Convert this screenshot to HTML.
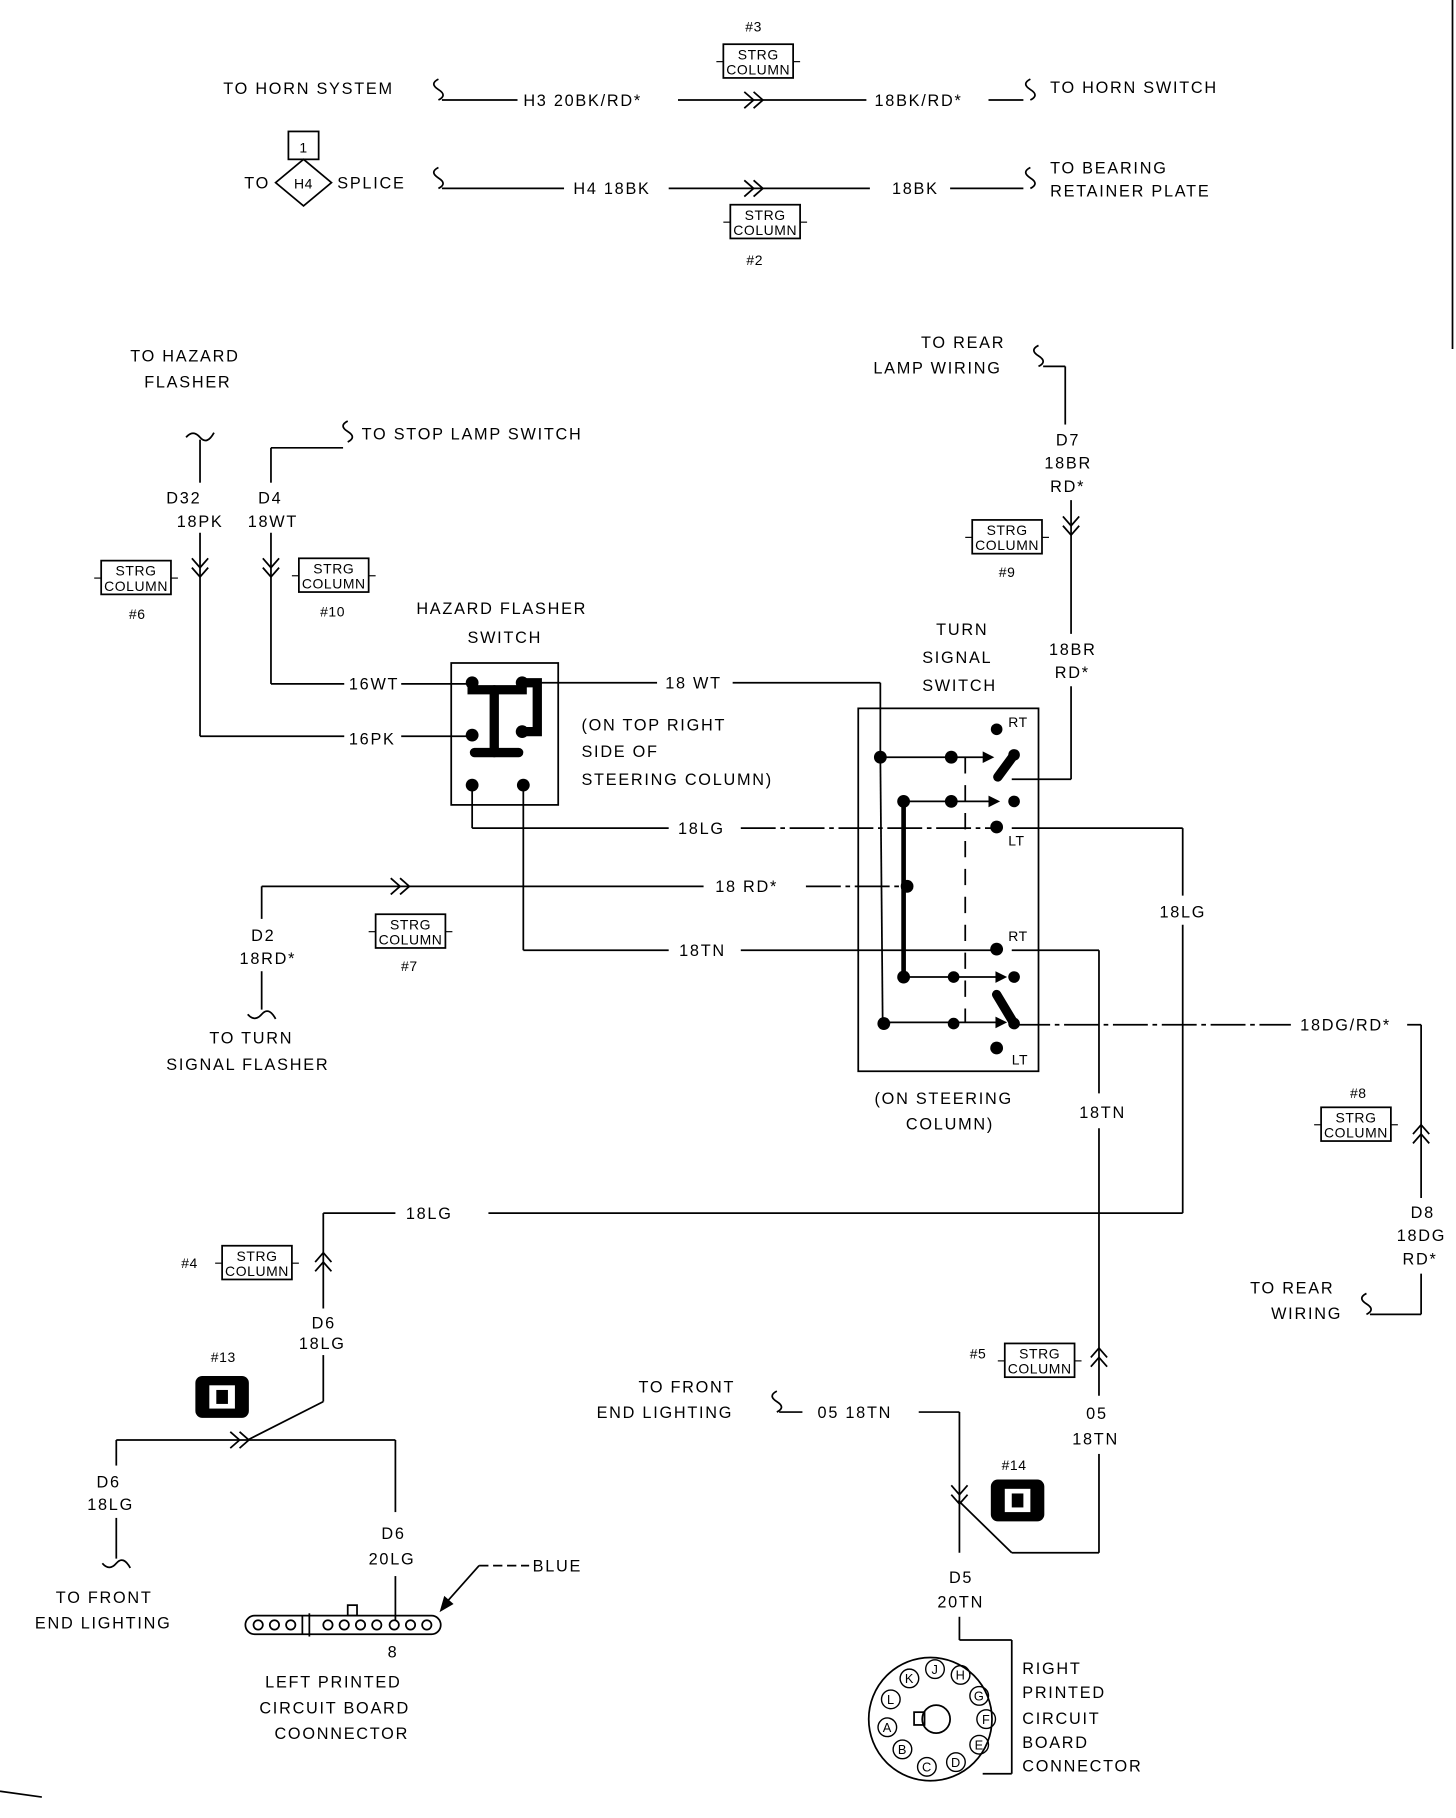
<!DOCTYPE html>
<html><head><meta charset="utf-8"><style>
html,body{margin:0;padding:0;background:#fff;}
svg{display:block;}
text{font-family:"Liberation Sans",sans-serif;font-size:14px;letter-spacing:1.5px;fill:#000;}
.s{font-size:12px;letter-spacing:0.5px;}
</style></head><body>
<svg width="1456" height="1818" viewBox="0 0 1252 1563" preserveAspectRatio="none" xmlns="http://www.w3.org/2000/svg">
<defs>
<g id="strg"><rect x="0" y="0" width="60" height="29" fill="none" stroke="#000" stroke-width="1.5"/><line x1="-6" y1="15" x2="0" y2="15" stroke="#000"/><line x1="60" y1="15" x2="66" y2="15" stroke="#000"/><text x="30" y="13" class="s" text-anchor="middle">STRG</text><text x="30" y="26" class="s" text-anchor="middle">COLUMN</text></g>
<g id="chr" fill="none" stroke="#000" stroke-width="1.5"><polyline points="-8,-7 0,0 -8,7"/><polyline points="0,-7 8,0 0,7"/></g>
<g id="chd" fill="none" stroke="#000" stroke-width="1.5"><polyline points="-7,-8 0,0 7,-8"/><polyline points="-7,0 0,8 7,0"/></g>
<g id="chu" fill="none" stroke="#000" stroke-width="1.5"><polyline points="-7,8 0,0 7,8"/><polyline points="-7,0 0,-8 7,0"/></g>
<path id="sqh" d="M0,-9 q-8,4 0,9 q8,5 0,9" fill="none" stroke="#000" stroke-width="1.5"/>
</defs>
<g fill="none" stroke="#000" stroke-width="1.5">
<line x1="380" y1="86" x2="445" y2="86"/><line x1="583" y1="86" x2="745" y2="86"/><line x1="850" y1="86" x2="880" y2="86"/>
<line x1="380" y1="162" x2="485" y2="162"/><line x1="575" y1="162" x2="748" y2="162"/><line x1="817" y1="162" x2="880" y2="162"/>
<rect x="248" y="113" width="26" height="24"/>
<polygon points="261,137 285,157 261,177 237,157"/>
<line x1="172" y1="378" x2="172" y2="415"/><line x1="172" y1="458" x2="172" y2="633"/><line x1="172" y1="633" x2="296" y2="633"/><line x1="345" y1="633" x2="404" y2="633"/>
<line x1="233" y1="385" x2="295" y2="385"/><line x1="233" y1="385" x2="233" y2="415"/><line x1="233" y1="458" x2="233" y2="588"/><line x1="233" y1="588" x2="296" y2="588"/><line x1="345" y1="588" x2="404" y2="588"/>
<rect x="388" y="570" width="92" height="122"/>
<line x1="462" y1="587" x2="565" y2="587"/><line x1="630" y1="587" x2="757" y2="587"/><line x1="757" y1="587" x2="757" y2="651"/>
<line x1="406" y1="675" x2="406" y2="712"/><line x1="406" y1="712" x2="575" y2="712"/><line x1="637" y1="712" x2="857" y2="712" stroke-dasharray="30,4,4,4"/><line x1="870" y1="712" x2="1017" y2="712"/><line x1="1017" y1="712" x2="1017" y2="770"/><line x1="1017" y1="795" x2="1017" y2="1043"/><line x1="1017" y1="1043" x2="420" y2="1043"/><line x1="340" y1="1043" x2="278" y2="1043"/><line x1="278" y1="1043" x2="278" y2="1125"/>
<line x1="278" y1="1165" x2="278" y2="1205"/><line x1="278" y1="1205" x2="213" y2="1238"/><line x1="100" y1="1238" x2="340" y2="1238"/><line x1="100" y1="1238" x2="100" y2="1260"/><line x1="100" y1="1305" x2="100" y2="1340"/><line x1="340" y1="1238" x2="340" y2="1300"/><line x1="340" y1="1355" x2="340" y2="1393"/>
<line x1="225" y1="762" x2="605" y2="762"/><line x1="693" y1="762" x2="780" y2="762" stroke-dasharray="30,4,4,4"/><line x1="225" y1="762" x2="225" y2="790"/><line x1="225" y1="835" x2="225" y2="868"/>
<line x1="450" y1="675" x2="450" y2="817"/><line x1="450" y1="817" x2="575" y2="817"/><line x1="637" y1="817" x2="857" y2="817"/><line x1="870" y1="817" x2="945" y2="817"/><line x1="945" y1="817" x2="945" y2="940"/><line x1="945" y1="970" x2="945" y2="1200"/><line x1="945" y1="1250" x2="945" y2="1335"/><line x1="945" y1="1335" x2="870" y2="1335"/><line x1="870" y1="1335" x2="824" y2="1290"/>
<line x1="670" y1="1214" x2="690" y2="1214"/><line x1="790" y1="1214" x2="825" y2="1214"/><line x1="825" y1="1214" x2="825" y2="1335"/><line x1="825" y1="1390" x2="825" y2="1410"/><line x1="825" y1="1410" x2="870" y2="1410"/><line x1="870" y1="1410" x2="870" y2="1525"/><line x1="870" y1="1525" x2="845" y2="1525"/>
<line x1="897" y1="315" x2="916" y2="315"/><line x1="916" y1="315" x2="916" y2="365"/><line x1="921" y1="430" x2="921" y2="545"/><line x1="921" y1="590" x2="921" y2="670"/><line x1="921" y1="670" x2="870" y2="670"/>
<line x1="873" y1="881" x2="1110" y2="881" stroke-dasharray="30,4,4,4"/><line x1="1210" y1="881" x2="1222" y2="881"/><line x1="1222" y1="881" x2="1222" y2="1030"/><line x1="1222" y1="1095" x2="1222" y2="1130"/><line x1="1222" y1="1130" x2="1178" y2="1130"/>
<rect x="738" y="609" width="155" height="312"/>
<line x1="757" y1="651" x2="759" y2="879"/>
<line x1="756" y1="651" x2="850" y2="651"/>
<line x1="777" y1="689" x2="850" y2="689"/>
<line x1="777" y1="840" x2="858" y2="840"/>
<line x1="759" y1="879" x2="858" y2="879"/>
<line x1="830" y1="651" x2="830" y2="879" stroke-dasharray="14,10"/>
</g>
<g stroke="#000" stroke-width="4" fill="none"><line x1="777" y1="689" x2="777" y2="840"/></g>
<g stroke="#000" stroke-width="8" stroke-linecap="round" fill="none"><line x1="872" y1="649" x2="858" y2="668"/><line x1="857" y1="855" x2="872" y2="880"/>
<polyline points="406,588 406,593 449,593 449,588"/><line x1="425" y1="593" x2="425" y2="647"/><line x1="408" y1="647" x2="446" y2="647"/><polyline points="449,587 462,587 462,629 449,629"/></g>
<g fill="#000">
<polygon points="855,651 845,646 845,656"/><polygon points="860,689 850,684 850,694"/><polygon points="866,840 856,835 856,845"/><polygon points="866,879 856,874 856,884"/>
<circle cx="406" cy="587" r="5.5"/><circle cx="406" cy="632" r="5.5"/><circle cx="406" cy="675" r="5.5"/><circle cx="450" cy="675" r="5.5"/><circle cx="449" cy="587" r="5.5"/><circle cx="449" cy="629" r="5.5"/>
<circle cx="857" cy="627" r="5"/><circle cx="757" cy="651" r="5.5"/><circle cx="818" cy="651" r="5.5"/><circle cx="872" cy="649" r="5"/>
<circle cx="777" cy="689" r="5.5"/><circle cx="818" cy="689" r="5.5"/><circle cx="872" cy="689" r="5"/><circle cx="857" cy="711" r="5.5"/>
<circle cx="780" cy="762" r="5.5"/><circle cx="857" cy="816" r="5.5"/>
<circle cx="777" cy="840" r="5.5"/><circle cx="820" cy="840" r="5"/><circle cx="872" cy="840" r="5"/>
<circle cx="760" cy="880" r="5.5"/><circle cx="820" cy="880" r="5"/><circle cx="872" cy="880" r="5"/><circle cx="857" cy="901" r="5.5"/>
<rect x="168" y="1183" width="46" height="36" rx="6"/><rect x="852" y="1272" width="46" height="36" rx="6"/>
</g>
<rect x="180" y="1191" width="22" height="20" fill="#fff"/><rect x="186" y="1195" width="10" height="12" fill="#000"/>
<rect x="864" y="1280" width="22" height="20" fill="#fff"/><rect x="870" y="1284" width="10" height="12" fill="#000"/>
<use href="#sqh" x="377" y="77"/><use href="#sqh" x="886" y="77"/><use href="#sqh" x="377" y="153"/><use href="#sqh" x="886" y="153"/>
<use href="#sqh" x="299" y="371"/><use href="#sqh" x="893" y="306"/><use href="#sqh" x="668" y="1205"/><use href="#sqh" x="1175" y="1121"/>
<path d="M160,376 q6,-7 12,0 q6,7 12,-4" fill="none" stroke="#000" stroke-width="1.5"/>
<path d="M213,872 q6,7 12,0 q6,-7 12,4" fill="none" stroke="#000" stroke-width="1.5"/>
<path d="M88,1344 q6,7 12,0 q6,-7 12,4" fill="none" stroke="#000" stroke-width="1.5"/>
<use href="#chr" x="648" y="86"/><use href="#chr" x="648" y="162"/><use href="#chr" x="344" y="762"/><use href="#chr" x="206" y="1238"/>
<use href="#chd" x="172" y="488"/><use href="#chd" x="233" y="488"/><use href="#chd" x="921" y="452"/><use href="#chd" x="825" y="1285"/>
<use href="#chu" x="278" y="1085"/><use href="#chu" x="945" y="1167"/><use href="#chu" x="1222" y="975"/>
<use href="#strg" x="622" y="38"/><use href="#strg" x="628" y="176"/><use href="#strg" x="87" y="482"/><use href="#strg" x="257" y="480"/>
<use href="#strg" x="836" y="447"/><use href="#strg" x="323" y="786"/><use href="#strg" x="1136" y="952"/><use href="#strg" x="191" y="1071"/><use href="#strg" x="864" y="1155"/>
<g fill="none" stroke="#000" stroke-width="1.5">
<rect x="211" y="1389" width="168" height="16" rx="8"/><line x1="260" y1="1389" x2="260" y2="1405"/><line x1="266" y1="1387" x2="266" y2="1407"/>
<rect x="299" y="1380" width="8" height="9"/>
<circle cx="222" cy="1397" r="4"/><circle cx="236" cy="1397" r="4"/><circle cx="250" cy="1397" r="4"/>
<circle cx="282" cy="1397" r="4"/><circle cx="296" cy="1397" r="4"/><circle cx="310" cy="1397" r="4"/><circle cx="324" cy="1397" r="4"/><circle cx="339" cy="1397" r="4"/><circle cx="353" cy="1397" r="4"/><circle cx="367" cy="1397" r="4"/>
<line x1="412" y1="1346" x2="380" y2="1382"/><line x1="412" y1="1346" x2="455" y2="1346" stroke-dasharray="8,4"/>
<circle cx="800" cy="1478" r="53"/><circle cx="805" cy="1478" r="12"/><rect x="786" y="1472" width="9" height="11"/>
<g stroke-width="1.2"><circle cx="804" cy="1435" r="8"/><circle cx="826" cy="1440" r="8"/><circle cx="842" cy="1458" r="8"/><circle cx="848" cy="1478" r="8"/><circle cx="842" cy="1500" r="8"/><circle cx="822" cy="1515" r="8"/><circle cx="797" cy="1519" r="8"/><circle cx="776" cy="1504" r="8"/><circle cx="763" cy="1485" r="8"/><circle cx="766" cy="1461" r="8"/><circle cx="782" cy="1443" r="8"/></g>
</g>
<polygon points="378,1386 382,1372 390,1379" fill="#000"/>
<g>
<text x="804" y="1439" class="s" text-anchor="middle" style="font-size:11px">J</text><text x="826" y="1444" class="s" text-anchor="middle" style="font-size:11px">H</text><text x="842" y="1462" class="s" text-anchor="middle" style="font-size:11px">G</text><text x="848" y="1482" class="s" text-anchor="middle" style="font-size:11px">F</text><text x="842" y="1504" class="s" text-anchor="middle" style="font-size:11px">E</text><text x="822" y="1519" class="s" text-anchor="middle" style="font-size:11px">D</text><text x="797" y="1523" class="s" text-anchor="middle" style="font-size:11px">C</text><text x="776" y="1508" class="s" text-anchor="middle" style="font-size:11px">B</text><text x="763" y="1489" class="s" text-anchor="middle" style="font-size:11px">A</text><text x="766" y="1465" class="s" text-anchor="middle" style="font-size:11px">L</text><text x="782" y="1447" class="s" text-anchor="middle" style="font-size:11px">K</text>
</g>
<text x="648" y="27" class="s" text-anchor="middle">#3</text>
<text x="192" y="81">TO HORN SYSTEM</text>
<text x="450" y="91">H3 20BK/RD*</text>
<text x="752" y="91">18BK/RD*</text>
<text x="903" y="80">TO HORN SWITCH</text>
<text x="261" y="131" class="s" text-anchor="middle">1</text>
<text x="210" y="162">TO</text><text x="261" y="162" class="s" text-anchor="middle">H4</text><text x="290" y="162">SPLICE</text>
<text x="493" y="167">H4 18BK</text><text x="767" y="167">18BK</text>
<text x="903" y="149">TO BEARING</text><text x="903" y="169">RETAINER PLATE</text>
<text x="649" y="228" class="s" text-anchor="middle">#2</text>
<text x="112" y="311">TO HAZARD</text><text x="124" y="333">FLASHER</text>
<text x="311" y="378">TO STOP LAMP SWITCH</text>
<text x="143" y="433">D32</text><text x="152" y="453">18PK</text>
<text x="222" y="433">D4</text><text x="213" y="453">18WT</text>
<text x="118" y="532" class="s" text-anchor="middle">#6</text><text x="286" y="530" class="s" text-anchor="middle">#10</text>
<text x="358" y="528">HAZARD FLASHER</text><text x="402" y="553">SWITCH</text>
<text x="300" y="593">16WT</text><text x="300" y="640">16PK</text>
<text x="572" y="592">18 WT</text>
<text x="500" y="628">(ON TOP RIGHT</text><text x="500" y="651">SIDE OF</text><text x="500" y="675">STEERING COLUMN)</text>
<text x="583" y="717">18LG</text><text x="615" y="767">18 RD*</text><text x="584" y="822">18TN</text>
<text x="216" y="809">D2</text><text x="206" y="829">18RD*</text>
<text x="352" y="835" class="s" text-anchor="middle">#7</text>
<text x="180" y="897">TO TURN</text><text x="143" y="920">SIGNAL FLASHER</text>
<text x="792" y="299">TO REAR</text><text x="751" y="321">LAMP WIRING</text>
<text x="908" y="383">D7</text><text x="898" y="403">18BR</text><text x="903" y="423">RD*</text>
<text x="866" y="496" class="s" text-anchor="middle">#9</text>
<text x="902" y="563">18BR</text><text x="907" y="583">RD*</text>
<text x="805" y="546">TURN</text><text x="793" y="570">SIGNAL</text><text x="793" y="594">SWITCH</text>
<text x="867" y="625" class="s">RT</text><text x="867" y="727" class="s">LT</text><text x="867" y="809" class="s">RT</text><text x="870" y="915" class="s">LT</text>
<text x="997" y="789">18LG</text>
<text x="1118" y="886">18DG/RD*</text>
<text x="752" y="949">(ON STEERING</text><text x="779" y="971">COLUMN)</text>
<text x="928" y="961">18TN</text>
<text x="1168" y="944" class="s" text-anchor="middle">#8</text>
<text x="1213" y="1047">D8</text><text x="1201" y="1067">18DG</text><text x="1206" y="1087">RD*</text>
<text x="1075" y="1112">TO REAR</text><text x="1093" y="1134">WIRING</text>
<text x="349" y="1048">18LG</text>
<text x="163" y="1090" class="s" text-anchor="middle">#4</text>
<text x="268" y="1142">D6</text><text x="257" y="1160">18LG</text>
<text x="192" y="1171" class="s" text-anchor="middle">#13</text>
<text x="841" y="1168" class="s" text-anchor="middle">#5</text>
<text x="549" y="1197">TO FRONT</text><text x="513" y="1219">END LIGHTING</text>
<text x="703" y="1219">05 18TN</text>
<text x="934" y="1220">05</text><text x="922" y="1242">18TN</text>
<text x="872" y="1264" class="s" text-anchor="middle">#14</text>
<text x="83" y="1279">D6</text><text x="75" y="1298">18LG</text>
<text x="48" y="1378">TO FRONT</text><text x="30" y="1400">END LIGHTING</text>
<text x="328" y="1323">D6</text><text x="317" y="1345">20LG</text>
<text x="458" y="1351">BLUE</text>
<text x="338" y="1425" text-anchor="middle">8</text>
<text x="228" y="1451">LEFT PRINTED</text><text x="223" y="1473">CIRCUIT BOARD</text><text x="236" y="1495">COONNECTOR</text>
<text x="816" y="1361">D5</text><text x="806" y="1382">20TN</text>
<text x="879" y="1439">RIGHT</text><text x="879" y="1460">PRINTED</text><text x="879" y="1482">CIRCUIT</text><text x="879" y="1503">BOARD</text><text x="879" y="1523">CONNECTOR</text>
<line x1="1249" y1="0" x2="1249" y2="300" stroke="#000" stroke-width="1.5"/>
<line x1="0" y1="1540" x2="36" y2="1545" stroke="#000" stroke-width="1.5"/>
</svg>
</body></html>
